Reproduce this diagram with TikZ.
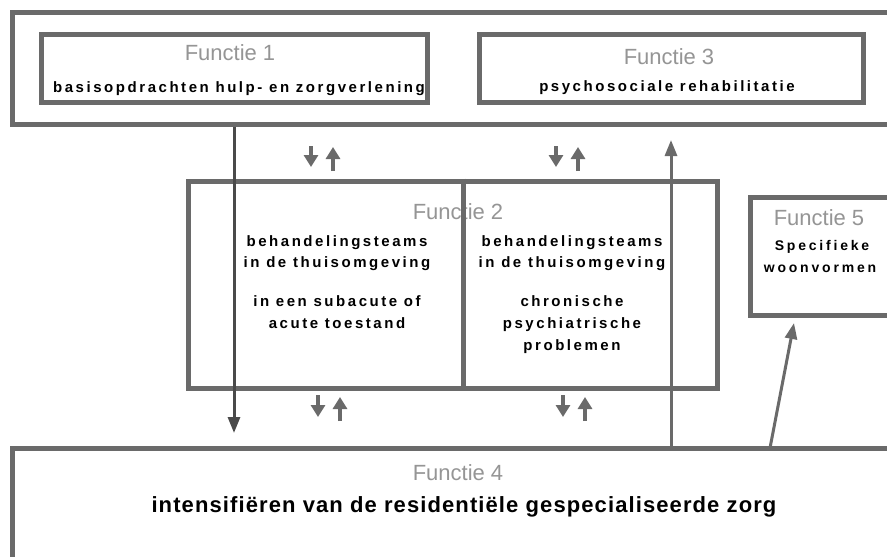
\documentclass[tikz,border=0pt]{standalone}
\usepackage{fontspec}
\setmainfont{Liberation Sans}
\newfontfamily\sptext[LetterSpace=17]{Liberation Sans}
\newfontfamily\sptextc[LetterSpace=20]{Liberation Sans}
\newfontfamily\sptextb[LetterSpace=5]{Liberation Sans}
\usetikzlibrary{arrows.meta,fit}
\definecolor{boxgray}{HTML}{6A6A6A}
\definecolor{darkarrow}{HTML}{4A4A4A}
\definecolor{titlegray}{HTML}{959595}
\tikzset{
  frame/.style={draw=boxgray, line width=5pt, inner sep=0pt},
  title/.style={text=titlegray, font=\fontsize{22}{24}\selectfont, inner sep=0pt},
  body/.style={font=\sptext\bfseries\fontsize{15}{21.5}\selectfont, inner sep=0pt, align=center},
  smallbody/.style={font=\sptextc\bfseries\fontsize{14}{22}\selectfont, inner sep=0pt, align=center},
  bigbody/.style={font=\sptextb\bfseries\fontsize{22}{24}\selectfont, inner sep=0pt},
  pairarrow/.style={draw=boxgray, line width=4.5pt, -{Triangle[width=14pt,length=12pt]}},
  longarrow/.style={draw=darkarrow, line width=3pt, -{Triangle[width=12pt,length=16pt]}},
  uparrow/.style={draw=boxgray, line width=3pt, -{Triangle[width=12pt,length=16pt]}},
}
\begin{document}
\begin{tikzpicture}[x=1pt,y=-1pt]
\useasboundingbox (0,0) rectangle (887,557);
\clip (0,0) rectangle (887,557);
\fill[white] (0,0) rectangle (887,557);
% top outer box
\node[frame, fit={(12,12) (905,124)}] (top) {};
\node[frame, fit={(41,34) (427,102)}] (f1) {};
\node[frame, fit={(479,34) (863,102)}] (f3) {};
\node[title, anchor=base] (f1t) at (230,60) {Functie 1};
\node[body, anchor=base] (f1b) at (239,92) {basisopdrachten hulp- en zorgverlening};
\node[title, anchor=base] (f3t) at (669,64) {Functie 3};
\node[body, anchor=base] (f3b) at (667,91) {psychosociale rehabilitatie};
% functie 2
\node[frame, fit={(188,181) (717,388)}] (f2) {};
\node[title, anchor=base] (f2t) at (458,219) {Functie 2};
\coordinate (divx) at (463,0);
\draw[boxgray, line width=5pt] (f2.north -| divx) -- (f2.south -| divx);
\node[body, anchor=base] (f2l1) at (337,246) {behandelingsteams};
\node[body, anchor=base] (f2l2) at (337,267) {in de thuisomgeving};
\node[body, anchor=base] (f2l3) at (337,306) {in een subacute of};
\node[body, anchor=base] (f2l4) at (337,328) {acute toestand};
\node[body, anchor=base] (f2r1) at (572,246) {behandelingsteams};
\node[body, anchor=base] (f2r2) at (572,267) {in de thuisomgeving};
\node[body, anchor=base] (f2r3) at (572,306) {chronische};
\node[body, anchor=base] (f2r4) at (572,328) {psychiatrische};
\node[body, anchor=base] (f2r5) at (572,350) {problemen};
% functie 5
\node[frame, fit={(750,197) (905,315)}] (f5) {};
\node[title, anchor=base] (f5t) at (819,225) {Functie 5};
\node[smallbody, anchor=base] (f5b1) at (822,250) {Specifieke};
\node[smallbody, anchor=base] (f5b2) at (820,272) {woonvormen};
% functie 4
\node[frame, fit={(12,448) (905,559)}] (f4) {};
\node[title, anchor=base] (f4t) at (458,480) {Functie 4};
\node[bigbody, anchor=base] (f4b) at (464,512) {intensifiëren van de residentiële gespecialiseerde zorg};
% long arrows
\coordinate (dtip) at (234,433);
\draw[longarrow] (top.south -| dtip) -- (dtip);
\coordinate (utip) at (671,140);
\draw[uparrow] (f4.north -| utip) -- (utip);
\coordinate (f5tail) at (770,448);
\coordinate (f5tip) at (794,323);
\draw[uparrow] (f5tail) -- (f5tip);
% small pairs
\coordinate (a1) at (311,146); \coordinate (a1e) at (311,167);
\draw[pairarrow] (a1) -- (a1e);
\coordinate (b1) at (333,171); \coordinate (b1e) at (333,147);
\draw[pairarrow] (b1) -- (b1e);
\coordinate (a2) at (556,146); \coordinate (a2e) at (556,167);
\draw[pairarrow] (a2) -- (a2e);
\coordinate (b2) at (578,171); \coordinate (b2e) at (578,147);
\draw[pairarrow] (b2) -- (b2e);
\coordinate (a3) at (318,395); \coordinate (a3e) at (318,417);
\draw[pairarrow] (a3) -- (a3e);
\coordinate (b3) at (340,421); \coordinate (b3e) at (340,397);
\draw[pairarrow] (b3) -- (b3e);
\coordinate (a4) at (563,395); \coordinate (a4e) at (563,417);
\draw[pairarrow] (a4) -- (a4e);
\coordinate (b4) at (585,421); \coordinate (b4e) at (585,397);
\draw[pairarrow] (b4) -- (b4e);
\end{tikzpicture}
\end{document}
